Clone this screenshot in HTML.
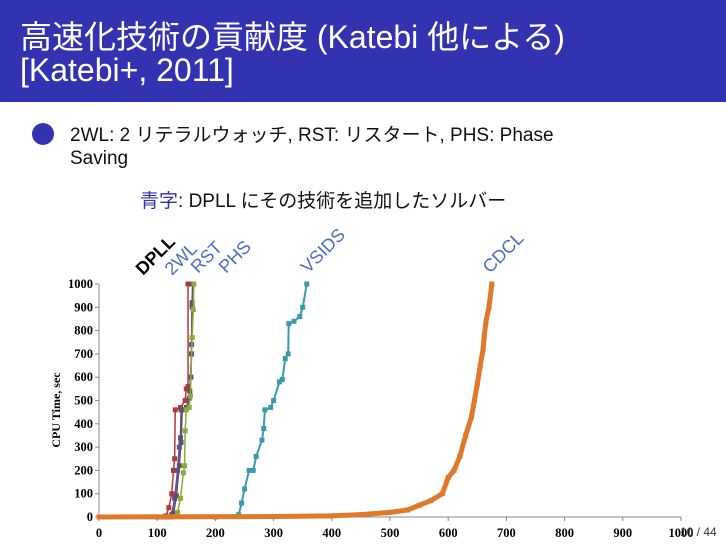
<!DOCTYPE html>
<html><head><meta charset="utf-8"><style>
body{margin:0;width:726px;height:544px;overflow:hidden;background:#fff;font-family:"Liberation Sans","Noto Sans CJK JP",sans-serif;position:relative}
#hdr{position:absolute;left:0;top:0;width:726px;height:102px;background:#3333b2}
.t{position:absolute;color:#fff;font-size:32px;left:20px;white-space:nowrap}
.b{position:absolute;font-size:19px;color:#111;white-space:nowrap}
</style></head><body>
<div id="hdr">
<div class="t" style="top:12px">高速化技術の貢献度 (Katebi 他による)</div>
<div class="t" style="top:52px">[Katebi+, 2011]</div>
</div>
<div style="position:absolute;left:32px;top:123px;width:22px;height:22px;border-radius:50%;background:#3333b2"></div>
<div class="b" style="left:70px;top:120px">2WL: 2 リテラルウォッチ, RST: リスタート, PHS: Phase</div>
<div class="b" style="left:70px;top:148px">Saving</div>
<div class="b" style="left:140px;top:186px"><span style="color:#3333b2">青字</span>: DPLL にその技術を追加したソルバー</div>
<svg id="c" width="726" height="544" style="position:absolute;left:0;top:0"></svg>
<div style="position:absolute;left:680px;top:525px;font-size:12px;color:#333">10 / 44</div>
<script>
const xTicks=[0,100,200,300,400,500,600,700,800,900,1000];
const yTicks=[0,100,200,300,400,500,600,700,800,900,1000];
const seriesNames=["DPLL","2WL","RST","PHS","VSIDS","CDCL"];
const dpllX=[100,115,120,125,128,130,131,140,148,150,153,153];
const dpllY=[0,5,40,100,200,250,460,470,500,550,560,1000];
const wlX=[110,125,130,135,138,140,141,150,155,158,159,160,161];
const wlY=[0,10,80,200,300,340,460,470,510,600,740,920,1000];
const rstX=[125,135,140,145,147,148,150,155,157,160,162,163];
const rstY=[0,20,80,190,220,370,460,470,520,770,890,1000];
const phsX=[118,128,133,138,141,143,152,156,159,160,161];
const phsY=[0,15,90,220,320,460,470,540,700,900,1000];
const vsX=[200,240,245,250,258,265,270,280,283,285,295,300,310,315,320,325,326,335,345,350,357];
const vsY=[0,10,60,120,200,200,260,330,380,460,470,500,580,590,680,700,830,840,860,900,1000];
const cdX=[0,300,400,450,500,530,550,570,590,600,610,620,630,640,645,650,655,660,662,665,670,675];
const cdY=[0,2,5,10,20,30,50,70,100,170,200,260,350,430,500,570,650,720,780,840,900,1000];
const NS="http://www.w3.org/2000/svg";
const svg=document.getElementById('c');
const X=v=>99+v*0.582, Y=v=>517-v*0.233;
function mk(t,a){const e=document.createElementNS(NS,t);for(const k in a)e.setAttribute(k,a[k]);svg.appendChild(e);return e;}
let ax=mk('line',{x1:99,y1:517,x2:681,y2:517,stroke:'#888'});


let ay=mk('line',{x1:99,y1:284,x2:99,y2:517,stroke:'#888'});


xTicks.forEach(v=>{
 mk('line',{x1:X(v),y1:517,x2:X(v),y2:521,stroke:'#888'});
 const t=mk('text',{x:X(v),y:537,'text-anchor':'middle','font-size':12.5,'font-family':'Liberation Serif','font-weight':'bold'});
 t.textContent=v;
 
 
});
yTicks.forEach(v=>{
 mk('line',{x1:95,y1:Y(v),x2:99,y2:Y(v),stroke:'#888'});
 const t=mk('text',{x:93,y:Y(v)+4,'text-anchor':'end','font-size':12.5,'font-family':'Liberation Serif','font-weight':'bold'});
 t.textContent=v;
 
 
});
const yt=mk('text',{x:0,y:0,transform:'translate(60,410) rotate(-90)','text-anchor':'middle','font-size':12,'font-family':'Liberation Serif','font-weight':'bold'});
yt.textContent='CPU Time, sec';


const S=[[dpllX,dpllY,'#b03a3a',1.5],[wlX,wlY,'#6a4a9a',1.5],[phsX,phsY,'#555566',1.5],[rstX,rstY,'#8aaa3a',1.5],[vsX,vsY,'#3a9ab0',2],[cdX,cdY,'#e07a2a',5]];
const nm=['series-dpll','series-2wl','series-phs','series-rst','series-vsids','series-cdcl'];
S.forEach((s,i)=>{
 const p=mk('polyline',{points:s[0].map((x,j)=>X(x)+','+Y(s[1][j])).join(' '),fill:'none',stroke:s[2],'stroke-width':s[3]});
 
 
 s[0].forEach((x,j)=>{const m=mk('rect',{x:X(x)-2.5,y:Y(s[1][j])-2.5,width:5,height:5,fill:s[2]});
  
  });
});
const lbl=[["DPLL",143,276,'#000','bold'],["2WL",172,276,'#4a6fc0','normal'],["RST",198,274,'#4a6fc0','normal'],["PHS",226,274,'#4a6fc0','normal'],["VSIDS",308,274,'#4a6fc0','normal'],["CDCL",490,274,'#4a6fc0','normal']];
lbl.forEach(l=>{
 const t=mk('text',{x:0,y:0,transform:`translate(${l[1]},${l[2]}) rotate(-45)`,'font-size':18,fill:l[3],'font-weight':l[4]});
 t.textContent=l[0];
 
 
});
</script>
</body></html>
